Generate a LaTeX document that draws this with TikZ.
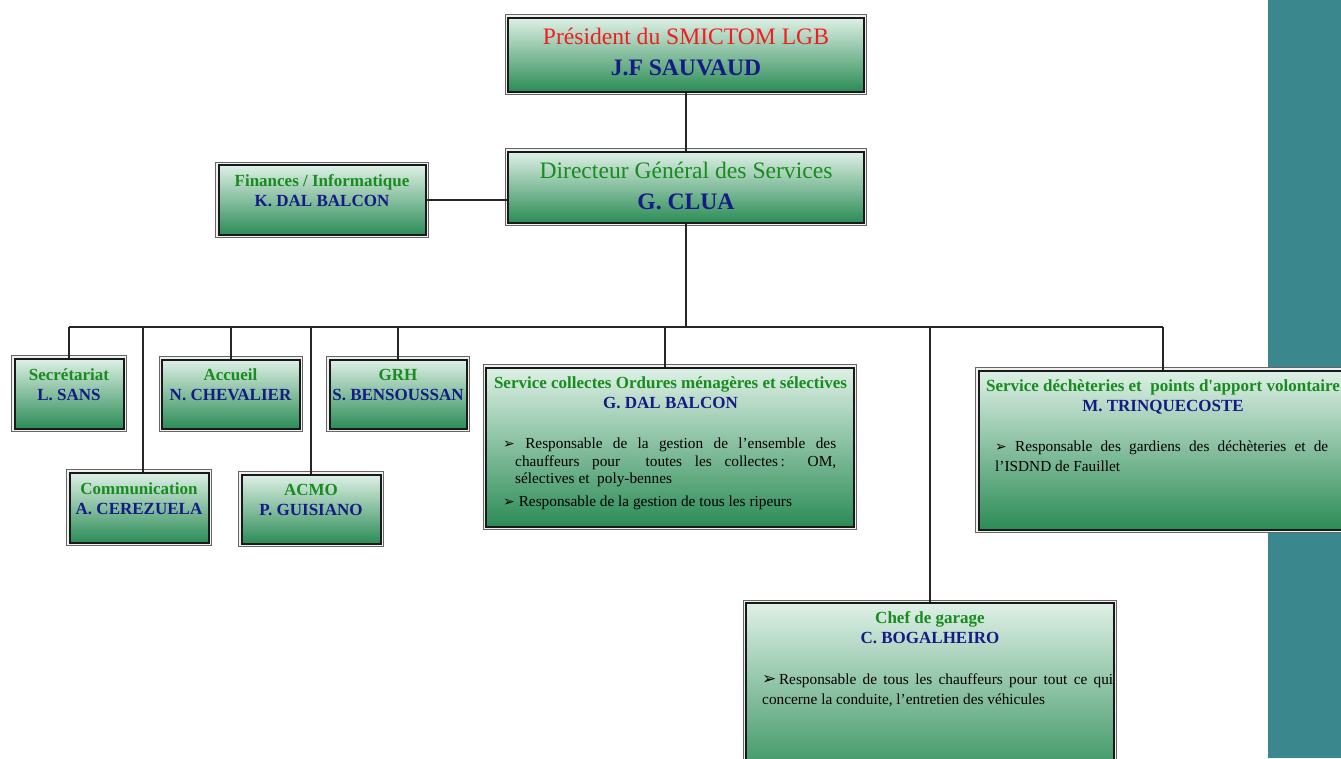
\documentclass[tikz,border=0pt]{standalone}
\usepackage{fontspec}
\setmainfont{Liberation Serif}
\newfontfamily\djv{DejaVu Sans}
\definecolor{boxtop}{RGB}{222,240,230}
\definecolor{boxmid}{RGB}{180,218,195}
\definecolor{boxbot}{RGB}{44,140,86}
\definecolor{ttlgreen}{RGB}{24,140,30}
\definecolor{navy}{RGB}{22,26,135}
\definecolor{redt}{RGB}{240,30,30}
\definecolor{tealbar}{RGB}{58,135,142}
\newcommand{\bul}{{\djv\fontsize{14}{14}\selectfont ➢}}
\newcommand{\nohy}{\hyphenpenalty=10000\relax\exhyphenpenalty=10000\relax}
\begin{document}
\begin{tikzpicture}[x=1pt,y=-1pt,
  box/.style={rectangle, preaction={draw=black!60, line width=6.4pt},
    preaction={draw=gray!12, line width=4.4pt},
    draw=black!90, line width=2pt,
    top color=boxtop, middle color=boxmid, bottom color=boxbot, inner sep=0pt},
  conn/.style={draw=black!85, line width=2pt},
  ttl/.style={font=\fontsize{17}{20}\selectfont\bfseries, align=center, inner sep=0pt},
  body/.style={font=\fontsize{15.3}{17.5}\selectfont,
    text width=333pt, align=justify, inner sep=0pt, anchor=north west}
]
\useasboundingbox (0,0) rectangle (1341,758);
\clip (0,0) rectangle (1341,758);
\fill[tealbar] (1268,0) rectangle (1341,758);
\coordinate (bus) at (0,327);

% boxes
\node[box, minimum width=356pt, minimum height=74pt] (pres) at (686,54.5) {};
\node[box, minimum width=356pt, minimum height=71pt] (dir) at (686,187) {};
\node[box, minimum width=207pt, minimum height=70pt] (fin) at (322,200) {};
\node[box, minimum width=109pt, minimum height=70pt] (sec) at (69,393.5) {};
\node[box, minimum width=138pt, minimum height=69pt] (acc) at (231,394) {};
\node[box, minimum width=137pt, minimum height=69pt] (grh) at (398,394) {};
\node[box, minimum width=139pt, minimum height=70pt] (com) at (139,507.5) {};
\node[box, minimum width=139pt, minimum height=69pt] (acmo) at (311,509) {};
\node[box, minimum width=368pt, minimum height=159pt] (col) at (670,447) {};
\node[box, minimum width=365pt, minimum height=159pt] (dech) at (1161,450) {};
\node[box, minimum width=368pt, minimum height=186pt] (chef) at (930,696) {};

% connectors
\draw[conn] (pres.south) -- (dir.north);
\draw[conn] (fin.east) -- (dir.west |- fin.east);
\draw[conn] (dir.south) -- (dir.south |- bus);
\draw[conn] (sec.north |- bus) -- ([xshift=2pt]dech.north |- bus);
\draw[conn] (sec.north) -- (sec.north |- bus);
\draw[conn] ([xshift=4pt]com.north) -- ([xshift=4pt]com.north |- bus);
\draw[conn] (acc.north) -- (acc.north |- bus);
\draw[conn] (acmo.north) -- (acmo.north |- bus);
\draw[conn] (grh.north) -- (grh.north |- bus);
\draw[conn] ([xshift=-5pt]col.north) -- ([xshift=-5pt]col.north |- bus);
\draw[conn] (chef.north) -- (chef.north |- bus);
\draw[conn] ([xshift=2pt]dech.north) -- ([xshift=2pt]dech.north |- bus);

% texts
\node[align=center, inner sep=0pt, font=\fontsize{23.6}{31}\selectfont] (pres-t) at (686,51.5)
  {\textcolor{redt}{Président du SMICTOM LGB}\\\textcolor{navy}{\bfseries J.F SAUVAUD}};
\node[align=center, inner sep=0pt, font=\fontsize{23.6}{31}\selectfont] (dir-t) at (686,185.5)
  {\textcolor{ttlgreen}{Directeur Général des Services}\\\textcolor{navy}{\bfseries G. CLUA}};
\node[ttl] (fin-t) at (322,190.5) {\textcolor{ttlgreen}{Finances / Informatique}\\\textcolor{navy}{K. DAL BALCON}};
\node[ttl] (sec-t) at (69,384.5) {\textcolor{ttlgreen}{Secrétariat}\\\textcolor{navy}{L. SANS}};
\node[ttl] (acc-t) at (230.5,385) {\textcolor{ttlgreen}{Accueil}\\\textcolor{navy}{N. CHEVALIER}};
\node[ttl] (grh-t) at (398,385) {\textcolor{ttlgreen}{GRH}\\\textcolor{navy}{S. BENSOUSSAN}};
\node[ttl] (com-t) at (139,498.5) {\textcolor{ttlgreen}{Communication}\\\textcolor{navy}{A. CEREZUELA}};
\node[ttl] (acmo-t) at (311,500) {\textcolor{ttlgreen}{ACMO}\\\textcolor{navy}{P. GUISIANO}};
\node[ttl] (col-t) at (670.5,393) {\textcolor{ttlgreen}{Service collectes Ordures ménagères et sélectives}\\\textcolor{navy}{G. DAL BALCON}};
\node[ttl] (dech-t) at (1163,397) {\textcolor{ttlgreen}{Service déchèteries et \ points d\textquotesingle apport volontaire}\\\textcolor{navy}{M. TRINQUECOSTE}};
\node[ttl] (chef-t) at (930,628) {\textcolor{ttlgreen}{Chef de garage}\\\textcolor{navy}{C. BOGALHEIRO}};

\node[body] (col-b) at (503,438) {\nohy\hangindent=12pt\hangafter=1 \bul\ Responsable de la gestion de l’ensemble des\linebreak chauffeurs pour \ toutes les collectes\,: OM,\linebreak sélectives et \ poly-bennes\par
\vspace{5pt}\nohy\hangindent=12pt\hangafter=1 \bul\ Responsable de la gestion de tous les ripeurs};
\node[body, font=\fontsize{15.3}{19.5}\selectfont] (dech-b) at (995,441) {\nohy\hangindent=12pt\hangafter=1 \bul\ Responsable des gardiens des déchèteries et de\linebreak l’ISDND de Fauillet};
\node[body, text width=351pt, font=\fontsize{15.3}{19.5}\selectfont] (chef-b) at (762,674) {\nohy\hangindent=11pt\hangafter=1 {\djv\fontsize{17}{17}\selectfont ➢}\,Responsable de tous les chauffeurs pour tout ce qui\linebreak concerne la conduite, l’entretien des véhicules};
\end{tikzpicture}
\end{document}
